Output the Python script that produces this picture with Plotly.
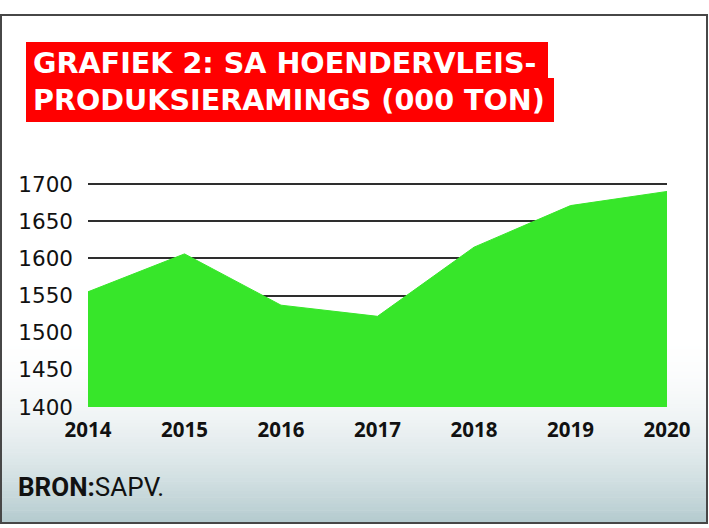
import plotly.graph_objects as go

# ---- data ----
years = [2014, 2015, 2016, 2017, 2018, 2019, 2020]
production = [1555, 1606, 1537, 1522, 1615, 1671, 1690]
y_ticks = [1400, 1450, 1500, 1550, 1600, 1650, 1700]
title_lines = ["GRAFIEK 2: SA HOENDERVLEIS-", "PRODUKSIERAMINGS (000 TON)"]
source_bold = "BRON:"
source_text = "SAPV."

W, H = 709, 528


def px(x):
    return x / W


def py(y):
    return 1 - y / H


shapes = []
# background gradient strips (white -> light blue-grey toward bottom)
top, bot = 15, 523
start = 330
c_end = (179, 202, 206)
n = 60
for i in range(n):
    y0 = start + (bot - start) * i / n
    y1 = start + (bot - start) * (i + 1) / n + 0.6
    t = ((i + 0.5) / n) ** 2
    col = tuple(round(255 + (ce - 255) * t) for ce in c_end)
    shapes.append(dict(type="rect", xref="paper", yref="paper", layer="below",
                       x0=px(1), x1=px(707), y0=py(min(y1, bot)), y1=py(y0),
                       fillcolor="rgb(%d,%d,%d)" % col, line=dict(width=0)))
# white upper part
shapes.append(dict(type="rect", xref="paper", yref="paper", layer="below",
                   x0=px(1), x1=px(707), y0=py(start + 0.5), y1=py(top),
                   fillcolor="white", line=dict(width=0)))
# border
shapes.append(dict(type="rect", xref="paper", yref="paper", layer="above",
                   x0=px(1), x1=px(707), y0=py(bot), y1=py(top),
                   fillcolor="rgba(0,0,0,0)", line=dict(color="#474747", width=2)))
# red title boxes
shapes.append(dict(type="rect", xref="paper", yref="paper", layer="below",
                   x0=px(26), x1=px(548), y0=py(78.5), y1=py(42),
                   fillcolor="#ff0000", line=dict(width=0)))
shapes.append(dict(type="rect", xref="paper", yref="paper", layer="below",
                   x0=px(26), x1=px(554), y0=py(122), y1=py(78),
                   fillcolor="#ff0000", line=dict(width=0)))

annotations = [
    dict(text="<b>%s</b>" % title_lines[0], x=px(31), y=py(63), xref="paper", yref="paper",
         xanchor="left", yanchor="middle", showarrow=False,
         font=dict(family="DejaVu Sans", size=28.6, color="white")),
    dict(text="<b>%s</b>" % title_lines[1], x=px(31), y=py(100), xref="paper", yref="paper",
         xanchor="left", yanchor="middle", showarrow=False,
         font=dict(family="DejaVu Sans", size=28.6, color="white")),
    dict(text="<b>%s</b>%s" % (source_bold, source_text), x=px(16), y=py(487),
         xref="paper", yref="paper", xanchor="left", yanchor="middle", showarrow=False,
         font=dict(family="Roboto", size=26, color="#111111")),
]

fig = go.Figure()
fig.add_trace(go.Scatter(
    x=years, y=production, mode="lines", fill="tozeroy",
    fillcolor="#37e62a", line=dict(color="#37e62a", width=1),
    hoverinfo="skip", showlegend=False,
))

fig.update_layout(
    width=W, height=H,
    margin=dict(l=0, r=0, t=0, b=0, pad=0, autoexpand=False),
    paper_bgcolor="white",
    plot_bgcolor="rgba(0,0,0,0)",
    shapes=shapes,
    annotations=annotations,
    xaxis=dict(
        domain=[px(88), px(667)], range=[2014, 2020],
        tickmode="array", tickvals=years, ticktext=[str(y) for y in years],
        showgrid=False, zeroline=False, showline=False, automargin=False,
        ticks="", ticklabelstandoff=8,
        tickfont=dict(family="Open Sans", size=20.5, color="#111111", weight=700),
        fixedrange=True,
    ),
    yaxis=dict(
        domain=[py(407), py(181.8)], range=[1400, 1703],
        tickmode="array", tickvals=y_ticks, ticktext=[str(v) for v in y_ticks],
        showgrid=True, gridcolor="#2e2e2e", gridwidth=1.5, automargin=False,
        zeroline=False, showline=False, ticks="", ticklabelstandoff=14,
        tickfont=dict(family="DejaVu Sans", size=21.5, color="#111111"),
        fixedrange=True,
    ),
)

fig.write_html("out.html", config={"displayModeBar": False},
               post_script="document.body.style.margin='0';document.body.style.overflow='hidden';")
